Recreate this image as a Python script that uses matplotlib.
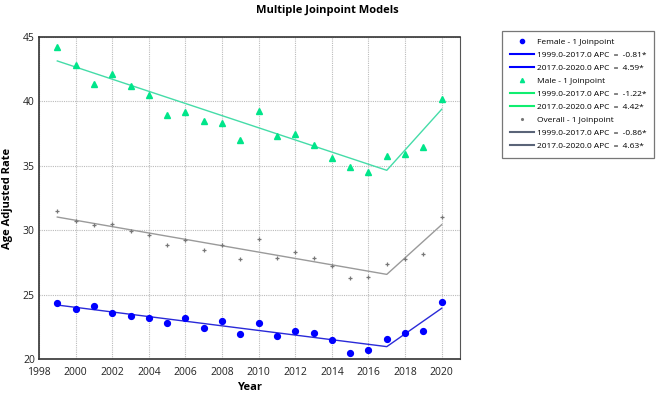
import matplotlib
matplotlib.use("Agg")
import matplotlib.pyplot as plt
from matplotlib.lines import Line2D

years = list(range(1999, 2021))
female = [24.32, 23.86, 24.11, 23.60, 23.36, 23.18, 22.82, 23.21, 22.38, 22.97, 21.96,
          22.80, 21.79, 22.17, 22.00, 21.50, 20.47, 20.67, 21.53, 22.04, 22.15, 24.43]
male = [44.22, 42.83, 41.35, 42.15, 41.22, 40.52, 38.92, 39.15, 38.48, 38.30, 36.98,
        39.28, 37.34, 37.44, 36.59, 35.58, 34.93, 34.54, 35.79, 35.92, 36.43, 40.21]
overall = [31.47, 30.74, 30.43, 30.51, 29.94, 29.65, 28.85, 29.21, 28.46, 28.85, 27.76,
           29.29, 27.84, 28.28, 27.84, 27.20, 26.31, 26.39, 27.38, 27.79, 28.18, 31.00]

knot_years = [1999, 2017, 2020]
female_fit = [24.19, 20.96, 23.94]
male_fit = [43.14, 34.65, 39.39]
overall_fit = [31.02, 26.57, 30.43]

legend_labels = [
    "Female - 1 Joinpoint", "1999.0-2017.0 APC  =  -0.81*", "2017.0-2020.0 APC  =  4.59*",
    "Male - 1 Joinpoint", "1999.0-2017.0 APC  =  -1.22*", "2017.0-2020.0 APC  =  4.42*",
    "Overall - 1 Joinpoint", "1999.0-2017.0 APC  =  -0.86*", "2017.0-2020.0 APC  =  4.63*",
]

plt.rcParams['font.family'] = ['Open Sans', 'DejaVu Sans']

c_f = '#0000ff'
c_fl = '#2a2ad8'
c_m = '#00e58a'
c_ml = '#45dca8'
c_mleg = '#10ee70'
c_o = '#777777'
c_ol = '#9a9a9a'
c_oleg = '#5a6478'

fig = plt.figure(figsize=(6.61, 3.96), dpi=100)
ax = fig.add_axes([39/661, 1-359/396, (460-39)/661, (359-37)/396])

ax.plot(years, female, 'o', color=c_f, markersize=4.2, zorder=3)
ax.plot(knot_years, female_fit, '-', color=c_fl, lw=1.0, zorder=2)
ax.plot(years, male, '^', color=c_m, markersize=3.8, zorder=3)
ax.plot(knot_years, male_fit, '-', color=c_ml, lw=1.0, zorder=2)
ax.plot(years, overall, '+', color=c_o, markersize=3.5, mew=0.9, zorder=3)
ax.plot(knot_years, overall_fit, '-', color=c_ol, lw=1.0, zorder=2)

ax.set_xlim(1998, 2021)
ax.set_ylim(20, 45)
ax.set_xticks(range(1998, 2021, 2))
ax.set_yticks(range(20, 46, 5))
ax.grid(True, linestyle=(0, (1, 1)), color='#bbbbbb', lw=0.8)
ax.set_axisbelow(True)
ax.tick_params(length=0, labelsize=7.5, colors='#222222')
ax.tick_params(axis='x', pad=6)
ax.tick_params(axis='y', pad=3)
for s in ['left', 'bottom', 'top']:
    ax.spines[s].set_color('#333333')
    ax.spines[s].set_linewidth(1.2)
ax.spines['right'].set_color('#555555')
ax.spines['right'].set_linewidth(0.8)

ax.set_xlabel('Year', fontsize=8, fontweight='bold', labelpad=3)
ax.set_ylabel('Age Adjusted Rate', fontsize=8, fontweight='bold', labelpad=7)
fig.text(327/661, 1-10/396, 'Multiple Joinpoint Models', fontsize=8, fontweight='bold',
         ha='center', va='center')

handles = [
    Line2D([], [], ls='none', marker='o', color=c_f, markersize=3),
    Line2D([], [], color=c_f, lw=1.5),
    Line2D([], [], color=c_f, lw=1.5),
    Line2D([], [], ls='none', marker='^', color=c_m, markersize=3),
    Line2D([], [], color=c_mleg, lw=1.5),
    Line2D([], [], color=c_mleg, lw=1.5),
    Line2D([], [], ls='none', marker='.', color=c_o, markersize=2.5),
    Line2D([], [], color=c_oleg, lw=1.5),
    Line2D([], [], color=c_oleg, lw=1.5),
]
leg = fig.legend(handles, legend_labels, loc='upper left',
                 bbox_to_anchor=(502/661, 1-31/396), fontsize=6.0, frameon=True,
                 fancybox=False, edgecolor='#555555', handlelength=2.9,
                 labelspacing=0.62, borderpad=0.9, handletextpad=0.4,
                 borderaxespad=0)
leg.get_frame().set_linewidth(0.9)

fig.savefig('out.png', dpi=100)
